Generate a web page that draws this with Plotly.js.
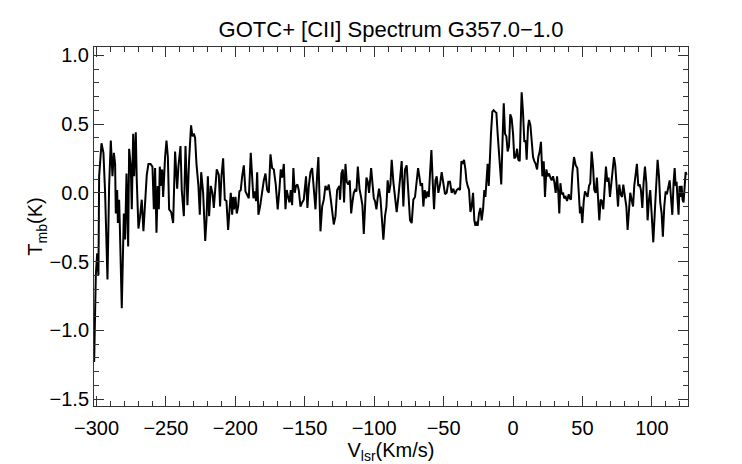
<!DOCTYPE html>
<html>
<head>
<meta charset="utf-8">
<script src="https://cdn.plot.ly/plotly-3.0.1.min.js"></script>
<style>
  html, body { margin: 0; padding: 0; background: #fff; }
  #spec { width: 742px; height: 464px; }
</style>
</head>
<body>
<div id="spec"></div>
<script>
// [CII] spectrum (V_lsr in km/s, T_mb in K)
var vlsr = [
  -301.7, -300.5, -299.5, -298.6, -298.1, -296.4, -295.0, -293.8, -292.1, -290.9,
  -289.7, -288.5, -287.5, -286.6, -286.1, -285.1, -284.6, -283.7, -283.2, -281.8,
  -280.3, -279.4, -278.4, -277.2, -276.5, -275.3, -274.6, -273.6, -272.9, -271.7,
  -271.0, -269.8, -268.6, -267.4, -266.2, -265.0, -263.8, -262.6, -261.1, -259.7,
  -258.7, -257.8, -256.8, -255.9, -255.1, -254.4, -253.4, -252.7, -252.0, -250.6,
  -249.6, -248.6, -247.7, -246.2, -244.8, -243.4, -241.9, -241.0, -239.5, -238.6,
  -237.1, -235.9, -234.5, -233.3, -231.9, -230.9, -229.9, -229.0, -228.0, -226.6,
  -225.6, -224.6, -223.2, -221.7, -220.8, -219.8, -218.9, -217.7, -216.5, -215.5,
  -214.6, -213.4,
  -211.9, -211.0, -210.0, -208.8, -207.6, -206.4, -205.2, -204.3, -203.3, -202.3,
  -201.6, -200.9, -199.9, -199.0, -198.0, -197.1, -196.1, -195.1, -193.9, -192.7,
  -191.5, -190.3, -188.9, -187.9, -187.0, -186.0, -185.1, -184.3, -183.4, -182.2,
  -180.7, -179.5, -178.3, -177.1, -175.9, -174.7, -173.5, -172.3, -170.9, -169.5,
  -168.3, -167.3, -166.3, -165.1, -163.9, -163.0, -162.0, -161.0, -160.1, -159.1,
  -158.2, -157.2, -156.3, -155.3, -154.3, -153.1, -151.9, -150.7, -149.1, -148.1,
  -147.1, -145.9, -144.7, -143.5, -142.3, -141.1, -140.2, -138.7, -137.5, -136.3,
  -135.1, -133.9, -132.7, -131.5, -130.3, -129.1, -127.9, -126.7, -125.1,
  -124.6, -123.6, -122.6, -121.7, -120.7, -119.8, -118.6, -117.6, -116.6, -115.7,
  -114.7, -113.8, -112.8, -111.8, -110.6, -109.5, -108.5, -107.5, -106.6, -105.6,
  -104.6, -103.7, -102.2, -101.3, -100.3, -99.4, -98.4, -97.4, -96.5, -95.5,
  -94.6, -93.4, -92.2, -91.2, -90.3, -89.3, -88.3, -87.4, -86.2, -85.0,
  -83.8, -82.6, -81.4, -80.2, -79.0, -77.8, -76.6, -75.4, -74.2, -73.0,
  -71.8, -70.6, -69.4, -68.4, -67.5, -66.5, -65.5, -64.6, -63.6, -62.7,
  -61.7, -60.7, -59.8, -58.8, -57.8, -56.9, -55.9, -55.0, -53.8, -52.6,
  -51.4, -50.2, -49.0, -47.8, -46.6, -45.4, -44.2, -43.0, -41.8, -40.6,
  -39.4, -38.2,
  -37.2, -36.3, -35.3, -34.3, -33.6, -32.7, -31.7, -30.7, -29.8, -28.8,
  -27.9, -27.1, -26.4, -25.5, -24.5, -23.5, -22.6, -21.6, -20.7, -19.9,
  -19.2, -18.3, -17.5, -16.8, -15.9, -14.9, -14.0, -13.0, -12.0, -11.1,
  -10.1, -9.1, -8.5, -7.7, -6.7, -5.8, -4.8, -3.9, -2.9, -2.0,
  -1.0, 0.0, 0.9, 1.9, 2.9, 3.8, 4.8, 5.5, 6.2, 7.2,
  8.1, 9.1, 9.8, 10.8, 11.5, 12.5, 13.4, 14.4, 15.3, 16.3,
  17.3, 18.2, 19.2, 20.1, 21.1, 22.1, 23.0, 24.0, 24.9, 25.9,
  26.9, 27.8, 28.8, 29.7, 30.7, 31.7, 32.6, 33.3, 34.1, 35.0,
  36.0, 36.9, 37.9, 38.9, 40.1,
  40.8, 41.7, 42.7, 43.9, 45.1, 46.3, 47.3, 48.2, 48.9, 49.9,
  50.9, 51.8, 52.8, 53.7, 54.7, 55.6, 56.6, 57.6, 58.5, 59.5,
  60.4, 61.4, 62.1, 63.1, 64.0, 65.0, 66.0, 66.9, 67.9, 68.8,
  69.8, 70.8, 71.7, 72.7, 73.6, 74.6, 75.6, 76.5, 77.5, 78.5,
  79.4, 80.6, 81.6, 82.5, 83.5, 84.4, 85.4, 86.4, 87.3, 88.3,
  89.2, 90.2, 91.2, 92.1, 93.1, 94.0, 95.0, 96.0, 96.9, 97.9,
  98.8, 99.8, 101.0, 102.2, 103.2, 104.1, 105.1, 106.0, 107.0, 107.9,
  108.9, 109.9, 110.8, 111.8, 112.8, 113.7, 114.7, 115.6, 116.4, 117.1,
  117.8, 118.5, 119.2, 119.9, 120.7, 121.4, 122.1, 122.8, 123.6, 124.3,
  125.0
];
var tmb = [
  -1.23, -0.60, -0.44, -0.60, 0.12, 0.36, 0.29, 0.00, -0.63, 0.05,
  0.38, 0.12, 0.29, 0.21, -0.15, 0.02, -0.22, -0.05, -0.24, -0.84,
  -0.15, -0.34, 0.14, -0.39, 0.32, 0.19, -0.12, 0.43, 0.12, 0.44,
  0.09, -0.26, -0.17, -0.05, -0.28, -0.07, 0.13, 0.21, 0.21, 0.19,
  -0.12, 0.18, -0.29, 0.05, -0.12, 0.19, 0.05, 0.17, -0.03, 0.26,
  0.38, 0.26, -0.12, -0.14, -0.22, 0.30, 0.03, 0.19, 0.34, 0.02,
  -0.17, 0.34, -0.09, 0.24, 0.49, 0.41, 0.43, 0.40, 0.21, 0.05,
  -0.16, 0.15, 0.00, -0.35, -0.20, 0.12, -0.17, 0.05, 0.00, -0.11,
  0.02, 0.17,
  0.13, -0.10, 0.12, 0.25, -0.05, -0.06, -0.27, -0.12, 0.00, -0.16,
  -0.03, -0.12, -0.03, -0.15, -0.10, 0.01, 0.02, 0.12, 0.20, 0.01,
  -0.01, -0.04, 0.29, 0.07, -0.04, 0.01, -0.06, 0.15, -0.16, -0.10,
  0.02, 0.09, 0.14, 0.02, 0.00, 0.28, 0.18, 0.17, 0.06, -0.12,
  0.02, 0.17, 0.11, 0.21, -0.12, 0.02, -0.03, -0.07, 0.02, -0.09,
  0.18, 0.00, 0.05, 0.06, 0.02, -0.10, -0.07, -0.05, 0.12, -0.11,
  0.05, 0.15, 0.18, 0.00, -0.12, 0.13, 0.26, -0.28, -0.10, -0.05,
  0.05, 0.02, 0.06, -0.03, -0.12, -0.23, -0.17, 0.02, 0.05,
  -0.05, 0.14, 0.17, -0.07, 0.21, 0.08, 0.06, 0.09, -0.15, -0.07,
  0.00, 0.02, 0.01, 0.19, 0.03, -0.03, -0.09, -0.30, -0.12, 0.11,
  0.08, 0.00, 0.18, 0.05, -0.04, -0.06, -0.12, -0.03, 0.03, -0.04,
  -0.20, -0.34, -0.17, -0.10, 0.09, 0.00, 0.06, 0.24, 0.08, -0.05,
  -0.14, -0.03, 0.08, 0.23, -0.10, 0.17, 0.20, -0.01, -0.20, -0.22,
  -0.05, -0.03, 0.08, 0.18, 0.12, 0.05, 0.07, -0.10, 0.02, -0.04,
  0.01, -0.03, 0.14, 0.31, 0.07, -0.12, 0.09, 0.12, 0.00, 0.06,
  0.15, 0.05, -0.01, 0.00, 0.08, 0.08, 0.00, 0.03, -0.01, 0.02,
  0.03, 0.02,
  0.23, 0.21, 0.24, 0.17, 0.09, 0.05, 0.02, -0.14, -0.10, 0.00,
  -0.20, -0.24, -0.21, -0.24, -0.15, -0.11, -0.20, -0.12, 0.02, -0.03,
  0.05, 0.21, 0.05, 0.24, 0.43, 0.59, 0.60, 0.59, 0.58, 0.43,
  0.31, 0.14, 0.06, 0.34, 0.65, 0.43, 0.41, 0.30, 0.34, 0.57,
  0.54, 0.43, 0.25, 0.26, 0.32, 0.24, 0.23, 0.50, 0.73, 0.58,
  0.37, 0.38, 0.24, 0.48, 0.53, 0.49, 0.38, 0.26, 0.23, 0.21,
  0.17, 0.26, 0.30, 0.37, 0.12, 0.23, -0.03, 0.17, 0.12, 0.14,
  0.11, 0.09, 0.12, 0.08, 0.00, 0.12, 0.00, -0.15, 0.07, -0.01,
  0.00, -0.04, -0.03, -0.06, -0.01,
  -0.04, -0.05, 0.14, 0.26, 0.20, 0.18, -0.03, -0.15, -0.10, -0.22,
  -0.06, 0.01, -0.01, -0.03, 0.05, 0.07, 0.30, 0.19, 0.02, 0.00,
  0.11, -0.05, -0.20, -0.05, -0.06, -0.12, 0.05, 0.19, 0.08, 0.11,
  -0.03, 0.08, 0.17, 0.26, 0.20, 0.02, -0.10, 0.06, -0.01, -0.03,
  0.06, -0.03, -0.10, -0.27, -0.15, 0.00, -0.05, -0.10, 0.05, 0.13,
  0.21, 0.05, 0.06, 0.02, -0.11, 0.07, 0.19, 0.07, -0.20, -0.05,
  0.02, -0.15, -0.36, -0.12, 0.12, 0.24, 0.12, -0.07, -0.15, -0.32,
  -0.10, 0.01, -0.01, 0.05, 0.09, -0.03, -0.16, 0.07, 0.18, 0.05,
  0.08, -0.05, -0.16, 0.05, -0.03, 0.05, -0.05, -0.07, 0.05, 0.15,
  0.13
];

var axisColor = '#333333';
var fontFam = '"Liberation Sans", Arial, Helvetica, sans-serif';

var trace = {
    x: vlsr,
    y: tmb,
    mode: 'lines',
    type: 'scatter',
    line: {color: '#000000', width: 2},
    hoverinfo: 'none'
};

function boxAxis(extra) {
    var ax = {
        showgrid: false,
        zeroline: false,
        showline: true,
        linecolor: axisColor,
        linewidth: 1,
        mirror: 'ticks',
        ticks: 'inside',
        ticklen: 10,
        tickwidth: 1,
        tickcolor: axisColor,
        tickmode: 'linear',
        tickfont: {family: fontFam, size: 20, color: '#000'},
        fixedrange: true
    };
    for (var k in extra) ax[k] = extra[k];
    return ax;
}

var layout = {
    width: 742,
    height: 464,
    paper_bgcolor: '#fff',
    plot_bgcolor: '#fff',
    showlegend: false,
    margin: {l: 94, r: 54, t: 47, b: 58},
    font: {family: fontFam, color: '#000'},
    title: {
        text: 'GOTC+ [CII] Spectrum G357.0\u22121.0',
        font: {family: fontFam, size: 22, color: '#000'},
        x: 0.527, xanchor: 'center',
        y: 0.937, yanchor: 'middle'
    },
    xaxis: boxAxis({
        range: [-301.8, 126],
        tick0: -300,
        dtick: 50,
        ticklabelstandoff: 4,
        minor: {dtick: 10, tick0: 0, ticks: 'inside', ticklen: 5, tickcolor: axisColor, showgrid: false},
        title: {text: 'V<sub>lsr</sub>(Km/s)', font: {family: fontFam, size: 20, color: '#000'}, standoff: 3}
    }),
    yaxis: boxAxis({
        range: [-1.55, 1.06],
        tick0: 0,
        dtick: 0.5,
        tickformat: '.1f',
        minor: {dtick: 0.1, tick0: 0, ticks: 'inside', ticklen: 5, tickcolor: axisColor, showgrid: false},
        title: {text: 'T<sub>mb</sub>(K)', font: {family: fontFam, size: 20, color: '#000'}, standoff: 0}
    })
};

Plotly.newPlot('spec', [trace], layout, {displayModeBar: false, staticPlot: true});
</script>
</body>
</html>
